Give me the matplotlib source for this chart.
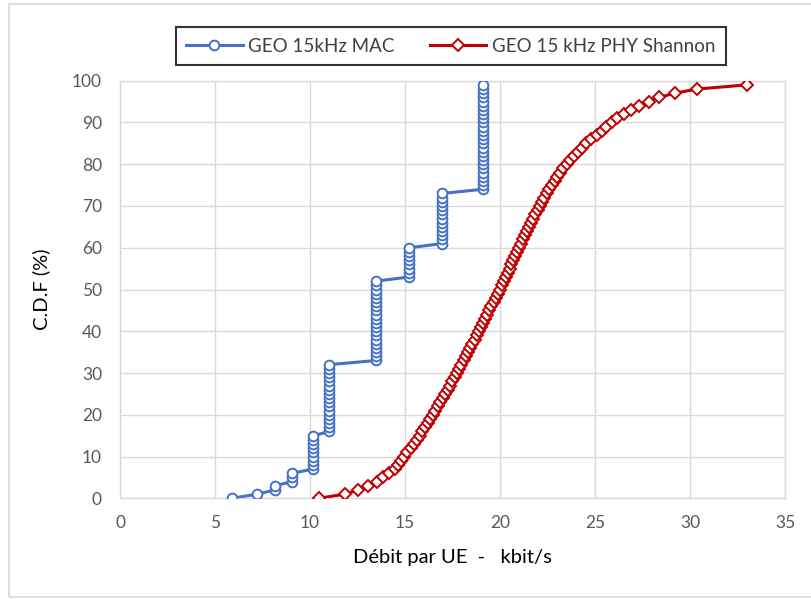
import matplotlib.pyplot as plt
from matplotlib.lines import Line2D
from matplotlib.patches import Rectangle

plt.rcParams['font.family'] = ['Lato', 'DejaVu Sans']

# CDF levels (%) for each point
cdf_pct = list(range(100))

# GEO 15kHz MAC - throughput per UE (kbit/s), one value per percentile
mac_rate = ([5.89, 7.22] + [8.15] * 2 + [9.05] * 3 + [10.18] * 9 + [11.0] * 17
            + [13.47] * 20 + [15.22] * 8 + [16.97] * 13 + [19.09] * 26)

# GEO 15 kHz PHY Shannon
phy_rate = [10.45, 11.85, 12.55, 13.07, 13.50, 13.82, 14.16, 14.45, 14.62, 14.80,
            14.96, 15.13, 15.30, 15.46, 15.62, 15.77, 15.92, 16.06, 16.20, 16.32,
            16.45, 16.59, 16.72, 16.85, 16.98, 17.11, 17.24, 17.36, 17.49, 17.61,
            17.74, 17.86, 17.97, 18.09, 18.20, 18.32, 18.43, 18.54, 18.66, 18.77,
            18.88, 18.99, 19.10, 19.21, 19.32, 19.44, 19.55, 19.66, 19.77, 19.89,
            20.00, 20.10, 20.20, 20.30, 20.40, 20.50, 20.60, 20.70, 20.80, 20.90,
            21.00, 21.10, 21.20, 21.30, 21.41, 21.52, 21.63, 21.75, 21.86, 21.98,
            22.10, 22.22, 22.34, 22.47, 22.60, 22.73, 22.87, 23.02, 23.17, 23.33,
            23.50, 23.69, 23.88, 24.08, 24.30, 24.53, 24.80, 25.10, 25.35, 25.60,
            25.88, 26.15, 26.50, 26.88, 27.30, 27.83, 28.36, 29.20, 30.36, 33.00]

blue = "#4472C4"
red = "#C00000"
grid_c = "#d9d9d9"

fig = plt.figure(figsize=(8.11, 5.99), dpi=100)
ax = fig.add_axes([120 / 811, 1 - 498.3 / 599, 665 / 811, (498.3 - 80.7) / 599])

# chart area border
fig.patches.append(Rectangle((9 / 811, 1 - 597 / 599), 1.0, 593 / 599,
                             transform=fig.transFigure, fill=False,
                             edgecolor=grid_c, lw=1.2))

ax.plot(mac_rate, cdf_pct, color=blue, lw=2.2, marker="o", ms=7,
        mfc="white", mec=blue, mew=1.4, zorder=3)
ax.plot(phy_rate, cdf_pct, color=red, lw=2.2, marker="D", ms=6,
        mfc="white", mec=red, mew=1.4, zorder=3)

ax.set_xlim(0, 35)
ax.set_ylim(0, 100)
ax.set_xticks(range(0, 36, 5))
ax.set_yticks(range(0, 101, 10))
ax.grid(True, color=grid_c, lw=1)
ax.set_axisbelow(True)
for s in ax.spines.values():
    s.set_color(grid_c)
    s.set_linewidth(1)
ax.tick_params(length=0, labelsize=12.5, labelcolor="#595959")
ax.tick_params(axis="x", pad=12)
ax.tick_params(axis="y", pad=13)

ax.set_xlabel("Débit par UE  -   kbit/s", fontsize=14.5, labelpad=13)
ax.set_ylabel("C.D.F (%)", fontsize=14.5, labelpad=16)

handles = [
    Line2D([], [], color=blue, lw=2.2, marker="o", ms=7, mfc="white", mec=blue, mew=1.4),
    Line2D([], [], color=red, lw=2.2, marker="D", ms=6, mfc="white", mec=red, mew=1.4),
]
leg = fig.legend(handles, ["GEO 15kHz MAC", "GEO 15 kHz PHY Shannon"],
                 loc="center", bbox_to_anchor=(451 / 811, 1 - 46 / 599), ncol=2,
                 fontsize=13.5, frameon=True, fancybox=False, edgecolor="black",
                 borderpad=0.55, handlelength=3.0, handletextpad=0.3,
                 columnspacing=1.9, borderaxespad=0)
leg.get_frame().set_linewidth(1.5)
for t in leg.get_texts():
    t.set_color("#404040")

fig.savefig("out.png", dpi=100)
